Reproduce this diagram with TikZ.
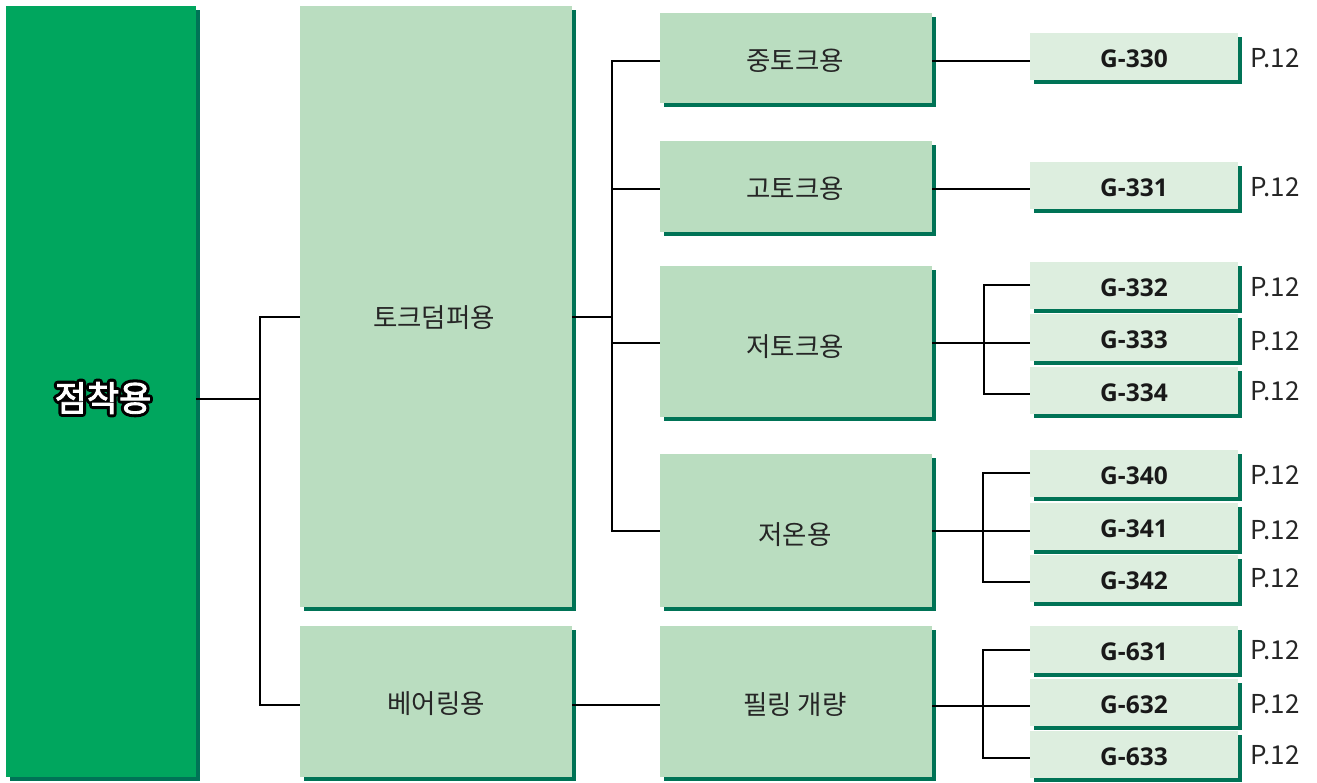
\documentclass[tikz,border=0pt]{standalone}
\usepackage{fontspec}
\setmainfont{Noto Sans CJK KR}
\newfontfamily\gfont{Open Sans}
\newfontfamily\krb[FakeBold=2.5]{Noto Sans CJK KR}
\newfontfamily\krn{Noto Sans CJK KR}
\usetikzlibrary{shadows}
\definecolor{dkg}{RGB}{0,166,94}
\definecolor{shg}{RGB}{0,115,86}
\definecolor{lg}{RGB}{186,221,192}
\definecolor{pg}{RGB}{221,238,223}
\newcommand\gb[3]{\node[gbox] (#1) at (1030,#2) {#3};}
\newcommand\pt[2]{\node[pl] (#1) at (1250,#2) {P.12};}
\begin{document}
\begin{tikzpicture}[x=1pt,y=-1pt,
 sh/.style={drop shadow={shadow xshift=4pt,shadow yshift=-4pt,fill=shg,opacity=1}},
 bx/.style={sh, draw=none, inner sep=0pt, outer sep=0pt, anchor=north west},
 mainbox/.style={bx, fill=dkg},
 catbox/.style={bx, fill=lg},
 gbox/.style={bx, fill=pg, minimum width=208pt, minimum height=46.5pt, text height=21.5pt, text depth=0pt, font=\gfont\bfseries\fontsize{24.5}{26}\selectfont, text=black!90},
 lbl/.style={font=\fontsize{26.5}{28}\selectfont, text=black!85, inner sep=0pt},
 pl/.style={anchor=west, font=\fontsize{26}{28}\selectfont, text=black!85, inner sep=0pt},
 conn/.style={line width=2pt, black}
]
\useasboundingbox (0,0) rectangle (1317,782);
% boxes
\node[mainbox, minimum width=190pt, minimum height=771pt] (main) at (6,6) {};
\node[catbox, minimum width=272pt, minimum height=601pt] (torque) at (300,6) {};
\node[catbox, minimum width=272pt, minimum height=151pt] (bearing) at (300,626) {};
\node[catbox, minimum width=272pt, minimum height=90pt] (mt) at (660,13) {};
\node[catbox, minimum width=272pt, minimum height=91pt] (ht) at (660,141) {};
\node[catbox, minimum width=272pt, minimum height=151pt] (lt) at (660,266) {};
\node[catbox, minimum width=272pt, minimum height=153pt] (lo) at (660,454) {};
\node[catbox, minimum width=272pt, minimum height=151pt] (pe) at (660,626) {};
% G boxes
\gb{g330}{33}{G-330}
\gb{g331}{162}{G-331}
\gb{g332}{262}{G-332}
\gb{g333}{314}{G-333}
\gb{g334}{367}{G-334}
\gb{g340}{450}{G-340}
\gb{g341}{503}{G-341}
\gb{g342}{555}{G-342}
\gb{g631}{626}{G-631}
\gb{g632}{679}{G-632}
\gb{g633}{731}{G-633}
% page refs
\pt{p1}{58}
\pt{p2}{187}
\pt{p3}{287}
\pt{p4}{341}
\pt{p5}{391}
\pt{p6}{475}
\pt{p7}{530}
\pt{p8}{578}
\pt{p9}{650}
\pt{p10}{704}
\pt{p11}{755}
% main label: black outlined copy, then white bold text
\node[font=\krn\fontsize{35}{37}\selectfont, text=black, inner sep=0pt] (tmainout) at (103,398)
  {\special{pdf:literal direct 2 Tr 7 w 1 j 0 0 0 RG}점착용\special{pdf:literal direct 0 Tr 1 w}};
\node[font=\krb\fontsize{35}{37}\selectfont, text=white, inner sep=0pt] (tmain) at (103,398) {점착용};
\node[lbl] (ttorque) at (434,318) {토크덤퍼용};
\node[lbl] (tbearing) at (436,704) {베어링용};
\node[lbl] (tmt) at (795,61) {중토크용};
\node[lbl] (tht) at (795,189) {고토크용};
\node[lbl] (tlt) at (795,347) {저토크용};
\node[lbl] (tlo) at (795,535) {저온용};
\node[lbl] (tpe) at (795,705) {필링 개량};
% connector coordinates
\coordinate (y61) at (0,61);
\coordinate (y189) at (0,189);
\coordinate (y317) at (0,317);
\coordinate (y705) at (0,705);
\coordinate (j0) at (260,399);
\coordinate (b1b) at (260,705);
\coordinate (j1) at (612,317);
\coordinate (b2b) at (612,531);
\coordinate (j2) at (612,189);
\coordinate (j3) at (612,343);
\coordinate (j4) at (984,343);
\coordinate (j4t) at (984,285);
\coordinate (j4b) at (984,394);
\coordinate (j5) at (983,531);
\coordinate (j5t) at (983,473);
\coordinate (j5b) at (983,582);
\coordinate (j6) at (983,706);
\coordinate (j6t) at (983,650);
\coordinate (j6b) at (983,758);
% connectors
\draw[conn] (main.east |- j0) -- (j0);
\draw[conn] (torque.west |- y317) -| (b1b) -- (bearing.west |- b1b);
\draw[conn] (torque.east |- j1) -- (j1);
\draw[conn] (mt.west |- y61) -| (b2b) -- (lo.west |- b2b);
\draw[conn] (j2) -- (ht.west |- j2);
\draw[conn] (j3) -- (lt.west |- j3);
\draw[conn] (bearing.east |- y705) -- (pe.west |- y705);
\draw[conn] (mt.east |- y61) -- (g330.west |- y61);
\draw[conn] (ht.east |- y189) -- (g331.west |- y189);
\draw[conn] (lt.east |- j4) -- (j4) -- (g333.west |- j4);
\draw[conn] (g332.west |- j4t) -| (j4b) -- (g334.west |- j4b);
\draw[conn] (lo.east |- j5) -- (j5) -- (g341.west |- j5);
\draw[conn] (g340.west |- j5t) -| (j5b) -- (g342.west |- j5b);
\draw[conn] (pe.east |- j6) -- (j6) -- (g632.west |- j6);
\draw[conn] (g631.west |- j6t) -| (j6b) -- (g633.west |- j6b);
\end{tikzpicture}
\end{document}
